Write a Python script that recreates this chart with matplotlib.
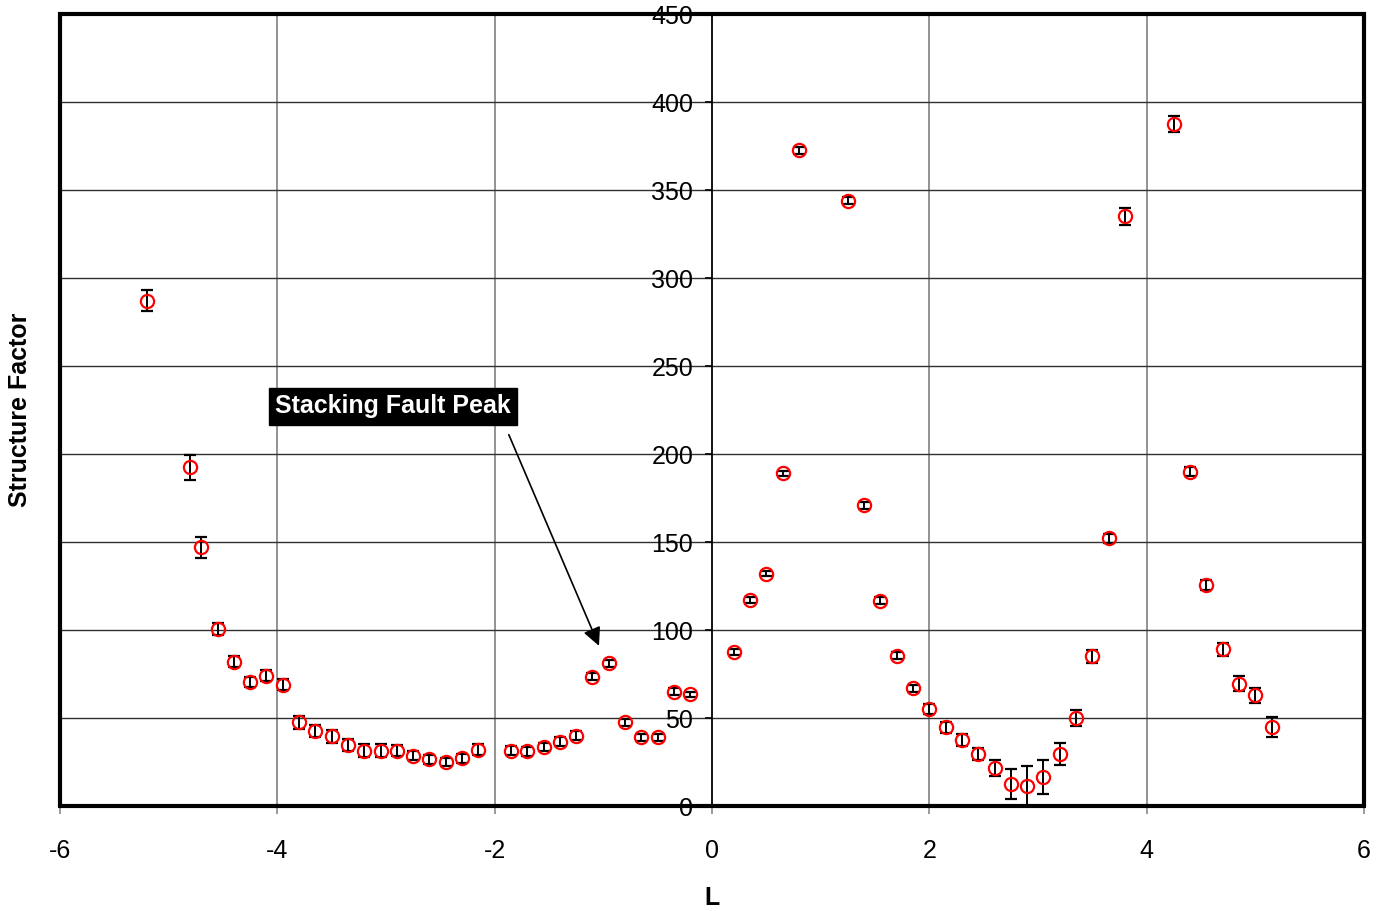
import matplotlib.pyplot as plt
from matplotlib.patches import Rectangle

plt.rcParams["font.family"] = ["Liberation Sans", "DejaVu Sans"]
plt.rcParams["axes.unicode_minus"] = False

# rod scan: L position, structure factor and its uncertainty
L = [-5.20, -4.80, -4.70, -4.55, -4.40, -4.25, -4.10, -3.95, -3.80, -3.65,
     -3.50, -3.35, -3.20, -3.05, -2.90, -2.75, -2.60, -2.45, -2.30, -2.15,
     -1.85, -1.70, -1.55, -1.40, -1.25, -1.10, -0.95, -0.80, -0.65, -0.50,
     -0.35, -0.20,
     0.20, 0.35, 0.50, 0.65, 0.80, 1.25, 1.40, 1.55, 1.70, 1.85,
     2.00, 2.15, 2.30, 2.45, 2.60, 2.75, 2.90, 3.05, 3.20, 3.35,
     3.50, 3.65, 3.80, 4.25, 4.40, 4.55, 4.70, 4.85, 5.00, 5.15]
sf = [287.0, 192.5, 147.0, 100.5, 82.0, 70.5, 74.0, 69.0, 47.5, 42.5,
      39.5, 34.5, 31.5, 31.5, 31.5, 28.5, 26.5, 25.0, 27.0, 32.0,
      31.5, 31.0, 33.5, 36.5, 40.0, 73.5, 81.0, 47.5, 39.0, 39.0,
      65.0, 63.5,
      87.5, 117.0, 132.0, 189.0, 372.5, 344.0, 171.0, 116.5, 85.5, 67.0,
      55.0, 44.7, 37.5, 29.5, 21.5, 12.5, 11.5, 16.5, 29.5, 50.2,
      85.0, 152.0, 335.0, 387.5, 190.0, 125.5, 89.0, 69.5, 63.0, 45.0]
sf_err = [6.0, 7.0, 6.0, 3.5, 3.0, 3.0, 3.0, 3.0, 3.5, 3.5,
          3.5, 3.5, 3.5, 3.5, 3.0, 2.5, 2.5, 2.5, 2.5, 3.0,
          2.5, 2.5, 2.5, 2.5, 2.5, 2.0, 2.0, 2.0, 2.0, 2.0,
          2.0, 1.5,
          1.5, 1.5, 1.5, 1.5, 2.0, 2.0, 2.0, 2.0, 2.0, 2.0,
          3.0, 3.0, 3.5, 3.5, 4.7, 8.3, 11.5, 9.5, 6.2, 4.5,
          3.8, 2.5, 5.0, 4.6, 2.5, 3.0, 3.8, 4.2, 4.2, 5.8]

x_ticks = [-6, -4, -2, 0, 2, 4, 6]
y_ticks = [0, 50, 100, 150, 200, 250, 300, 350, 400, 450]

fig = plt.figure(figsize=(13.86, 9.11), dpi=100)
ax = fig.add_axes([60 / 1386, 1 - 806 / 911, 1304 / 1386, 792 / 911])

ax.set_xlim(-6, 6)
ax.set_ylim(0, 450)
ax.set_xticks(x_ticks)
ax.set_yticks(y_ticks)

# gridlines: dark horizontal, grey vertical
ax.grid(axis="y", color="#303030", lw=1.0)
ax.grid(axis="x", color="#8a8a8a", lw=1.3)
ax.set_axisbelow(True)

# y axis runs through L = 0, heavy frame around the plot area
for side in ["top", "bottom", "right"]:
    ax.spines[side].set_visible(False)
ax.spines["left"].set_position(("data", 0))
ax.spines["left"].set_linewidth(1.2)
ax.add_patch(Rectangle((0, 0), 1, 1, transform=ax.transAxes, fill=False,
                       ec="black", lw=3, clip_on=False, zorder=5))

ax.tick_params(axis="y", direction="out", length=5, width=1.2, pad=8.5,
               labelsize=18, color="black")
ax.tick_params(axis="x", direction="out", length=6, width=1.2, pad=18,
               labelsize=18, color="#8a8a8a")

ax.errorbar(L, sf, yerr=sf_err, fmt="o", mfc="none", mec="red", mew=1.6,
            ms=9.5, ecolor="black", elinewidth=1.4, capsize=4.5,
            capthick=1.8, zorder=4)

ax.text(-2.935, 227, "Stacking Fault Peak", color="white", weight="bold",
        fontsize=18, ha="center", va="center", zorder=6,
        bbox=dict(boxstyle="square,pad=0.25", fc="black", ec="black"))
ax.annotate("", xy=(-1.04, 91), xytext=(-1.87, 211),
            arrowprops=dict(arrowstyle="-|>,head_length=0.55,head_width=0.27",
                            color="black", lw=1.2, shrinkA=0, shrinkB=0,
                            mutation_scale=20))

ax.set_xlabel("L", fontsize=18, weight="bold", labelpad=16)
ax.set_ylabel("Structure Factor", fontsize=18, weight="bold")
ax.yaxis.set_label_coords(-0.0215, 0.5, transform=ax.transAxes)

fig.savefig("out.png", dpi=100)
